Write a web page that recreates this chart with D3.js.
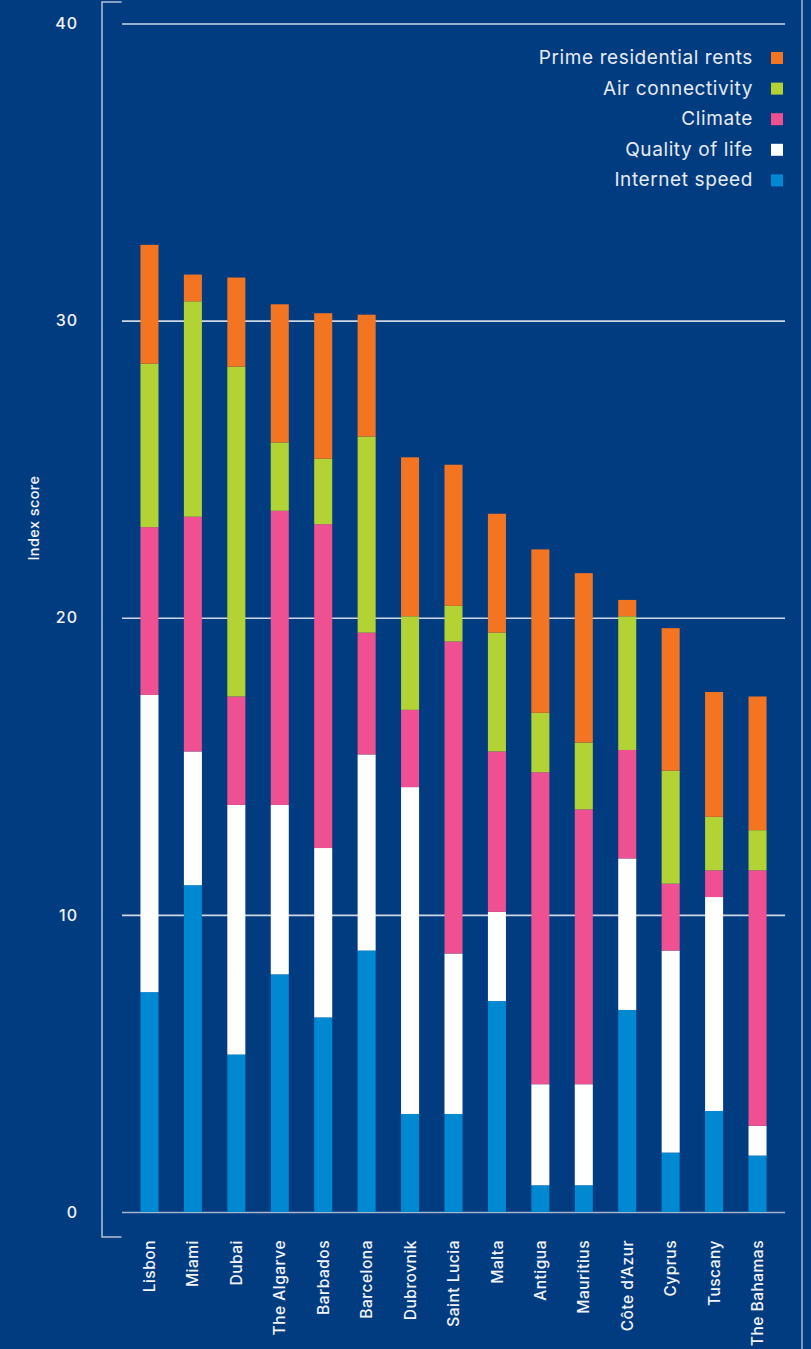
<!DOCTYPE html>
<html>
<head>
<meta charset="utf-8">
<script src="https://cdn.jsdelivr.net/npm/d3@7"></script>
<style>
  html, body { margin: 0; padding: 0; background: #023c80; }
  svg { display: block; font-family: Inter, "Open Sans", sans-serif; }
</style>
</head>
<body>
<svg id="chart" width="811" height="1349"></svg>
<script>
// cities, in the order they appear
var cities = ['Lisbon', 'Miami', 'Dubai', 'The Algarve', 'Barbados', 'Barcelona', 'Dubrovnik',
	'Saint Lucia', 'Malta', 'Antigua', 'Mauritius', 'Côte d\u2019Azur', 'Cyprus', 'Tuscany', 'The Bahamas'];

// index components
var internetSpeed = [7.4, 11.0, 5.3, 8.0, 6.55, 8.8, 3.3, 3.3, 7.1, 0.9, 0.9, 6.8, 2.0, 3.4, 1.9];
var qualityOfLife = [10.0, 4.5, 8.4, 5.7, 5.7, 6.6, 11.0, 5.4, 3.0, 3.4, 3.4, 5.1, 6.8, 7.2, 1.0];
var climate = [5.65, 7.9, 3.65, 9.9, 10.9, 4.1, 2.6, 10.5, 5.4, 10.5, 9.25, 3.65, 2.25, 0.9, 8.6];
var airConnectivity = [5.5, 7.25, 11.1, 2.3, 2.2, 6.6, 3.15, 1.2, 4.0, 2.0, 2.25, 4.5, 3.8, 1.8, 1.35];
var primeRents = [4.0, 0.9, 3.0, 4.65, 4.9, 4.1, 5.35, 4.75, 4.0, 5.5, 5.7, 0.55, 4.8, 4.2, 4.5];

var seriesNames = ['Internet speed', 'Quality of life', 'Climate', 'Air connectivity', 'Prime residential rents'];
var seriesColors = ['#0088d1', '#ffffff', '#ef5092', '#b3d334', '#f37521'];
var yTicks = [0, 10, 20, 30, 40];

var svg = d3.select('#chart');
var W = 811, H = 1349;
var plotLeft = 122, plotRight = 785;

// table for d3.stack
var allSeries = [internetSpeed, qualityOfLife, climate, airConnectivity, primeRents];
var rows = cities.map(function (c, i) {
	var row = { city: c };
	seriesNames.forEach(function (s, j) { row[s] = allSeries[j][i]; });
	return row;
});
var stacked = d3.stack().keys(seriesNames)(rows);

var x = d3.scaleBand().domain(cities).range([plotLeft, plotRight])
	.paddingInner(0.585).paddingOuter(0.425);
var y = d3.scaleLinear().domain([0, 40]).range([1212, 23.5]);
var color = d3.scaleOrdinal().domain(seriesNames).range(seriesColors);

// frame line on the right
svg.append('line')
	.attr('x1', 802).attr('x2', 802).attr('y1', 0).attr('y2', H)
	.attr('stroke', '#a7b6cc').attr('stroke-width', 1.5);

// left bracket
svg.append('path')
	.attr('d', 'M121.5,2 H102 V1237 H121.5')
	.attr('fill', 'none').attr('stroke', '#b4c2d6').attr('stroke-width', 1.5);

// grid + tick labels
var yAxis = svg.append('g')
	.attr('transform', 'translate(' + plotLeft + ',0)')
	.call(d3.axisLeft(y).tickValues(yTicks).tickSize(-(plotRight - plotLeft)).tickPadding(44));
yAxis.select('.domain').remove();
yAxis.selectAll('.tick line')
	.attr('stroke', function (d) { return d === 0 ? '#a3b4cc' : '#cdd7e6'; })
	.attr('stroke-width', 1.6);
yAxis.selectAll('.tick text')
	.attr('fill', '#f2f4f8')
	.style('font-size', '16px')
	.style('font-weight', 500)
	.style('letter-spacing', '1px')
	.style('font-family', 'Inter, sans-serif');

svg.append('text')
	.attr('transform', 'translate(38.5,518) rotate(-90)')
	.attr('text-anchor', 'middle')
	.attr('fill', '#f2f4f8')
	.style('font-size', '14.5px')
	.style('font-weight', 500)
	.style('letter-spacing', '0.4px')
	.text('Index score');

// bars
var layers = svg.append('g').selectAll('g')
	.data(stacked)
	.enter()
	.append('g')
	.attr('fill', function (d) { return color(d.key); });
layers.selectAll('rect')
	.data(function (d) { return d; })
	.enter()
	.append('rect')
	.attr('x', function (d) { return x(d.data.city); })
	.attr('width', x.bandwidth())
	.attr('y', function (d) { return y(d[1]); })
	.attr('height', function (d) { return y(d[0]) - y(d[1]); });

// category labels
var xAxis = svg.append('g')
	.attr('transform', 'translate(0,1240)')
	.call(d3.axisBottom(x).tickSize(0));
xAxis.select('.domain').remove();
xAxis.selectAll('.tick text')
	.attr('transform', 'rotate(-90)')
	.attr('x', 0).attr('y', 0).attr('dy', '0.36em')
	.style('text-anchor', 'end')
	.attr('fill', '#f2f4f8')
	.style('font-size', '15.5px')
	.style('font-weight', 500)
	.style('letter-spacing', '0.5px')
	.style('font-family', 'Inter, sans-serif');

// legend, top to bottom = top of stack first
var legendItems = seriesNames.slice().reverse();
var legend = svg.append('g').selectAll('g')
	.data(legendItems)
	.enter()
	.append('g')
	.attr('transform', function (d, i) { return 'translate(0,' + (52 + i * 30.6) + ')'; });
legend.append('rect')
	.attr('x', 771).attr('width', 12).attr('height', 12)
	.attr('fill', function (d) { return color(d); });
legend.append('text')
	.attr('x', 753).attr('y', 12)
	.attr('text-anchor', 'end')
	.attr('fill', '#e6ebf3')
	.style('font-size', '19px')
	.style('letter-spacing', '0.6px')
	.text(function (d) { return d; });
</script>
</body>
</html>
